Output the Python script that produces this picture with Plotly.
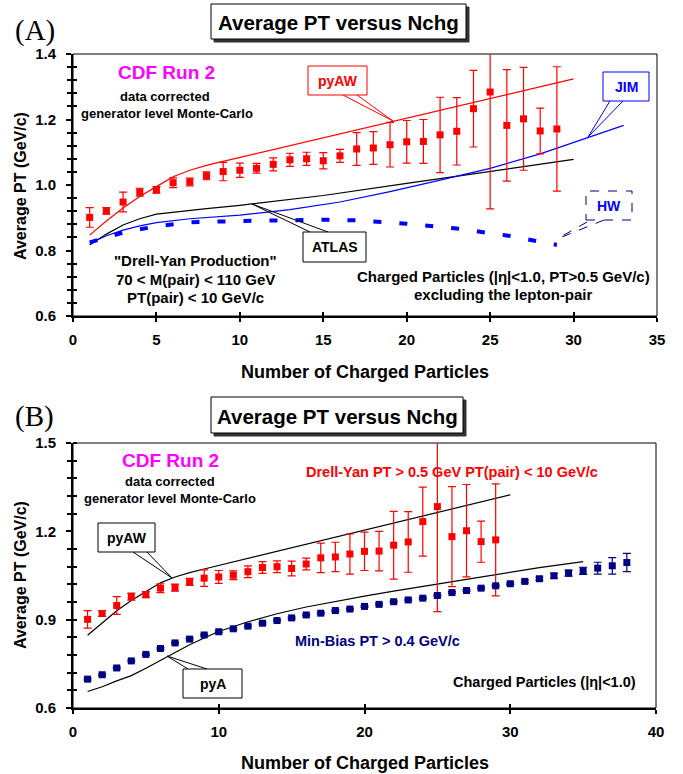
import plotly.graph_objects as go

W, H = 683, 774

# ---------------- data ----------------
# Drell-Yan data (CDF Run 2), average PT vs number of charged particles
nchg_dy = list(range(1, 30))
dy_pt = [0.901, 0.921, 0.948, 0.978, 0.985, 1.007, 1.009, 1.028, 1.041, 1.045,
         1.051, 1.063, 1.077, 1.080, 1.074, 1.089, 1.110, 1.113, 1.123, 1.132,
         1.133, 1.153, 1.164, 1.233, 1.284, 1.182, 1.202, 1.165, 1.171]
dy_err = [0.030, 0.010, 0.030, 0.012, 0.010, 0.015, 0.012, 0.012, 0.028, 0.022,
          0.015, 0.020, 0.020, 0.020, 0.025, 0.020, 0.050, 0.050, 0.068, 0.065,
          0.067, 0.115, 0.103, 0.117, 0.357, 0.170, 0.157, 0.070, 0.190]

# Min-Bias data
nchg_mb = list(range(1, 39))
mb_pt = [0.698, 0.713, 0.736, 0.760, 0.782, 0.802, 0.821, 0.834, 0.848, 0.859,
         0.869, 0.878, 0.888, 0.897, 0.906, 0.916, 0.922, 0.931, 0.936, 0.945,
         0.952, 0.961, 0.967, 0.973, 0.982, 0.992, 0.999, 1.007, 1.015, 1.022,
         1.030, 1.039, 1.049, 1.058, 1.066, 1.075, 1.083, 1.094]
mb_err = [0.003] * 30 + [0.004, 0.005, 0.008, 0.010, 0.012, 0.020, 0.028, 0.031]

# Monte-Carlo curves
pyaw_x = [1, 2, 3, 4, 5, 6, 7, 8, 9, 10, 15, 20, 25, 30]
pyaw_pt = [0.847, 0.890, 0.930, 0.965, 0.995, 1.025, 1.045, 1.060, 1.072, 1.084,
           1.144, 1.204, 1.264, 1.324]
atlas_x = [1, 2, 3, 4, 5, 6, 8, 10, 15, 20, 25, 30]
atlas_pt = [0.817, 0.850, 0.878, 0.897, 0.911, 0.917, 0.928, 0.938, 0.968, 1.005,
            1.042, 1.078]
jim_x = [1, 2, 3, 4, 5, 7, 10, 13, 16, 19, 22, 25, 28, 31, 33]
jim_pt = [0.822, 0.845, 0.862, 0.875, 0.885, 0.897, 0.908, 0.925, 0.948, 0.980,
          1.015, 1.051, 1.095, 1.148, 1.182]
hw_x = [1, 3, 5, 7, 10, 13, 15, 17, 20, 23, 26, 29]
hw_pt = [0.825, 0.855, 0.874, 0.886, 0.890, 0.893, 0.894, 0.892, 0.882, 0.867,
         0.846, 0.817]
pya_x = [1, 2, 3, 4, 5, 6, 7, 8, 9, 10, 12, 14, 16, 18, 20, 22, 24, 26, 28, 30,
         32, 35]
pya_pt = [0.656, 0.672, 0.692, 0.710, 0.735, 0.762, 0.790, 0.815, 0.838, 0.860,
          0.893, 0.920, 0.943, 0.962, 0.980, 0.997, 1.013, 1.028, 1.045, 1.062,
          1.077, 1.097]

# ---------------- helpers ----------------
FONT = "Liberation Sans, Arial, sans-serif"
SERIF = "Liberation Serif, Times New Roman, serif"
RED = "#FF0000"
BLUE = "#0000FF"
NAVY = "#000080"
MAGENTA = "#FF00FF"


def px(x):
    """figure x (pixels) -> paper fraction"""
    return x / W


def py(y):
    """figure y (pixels, from top) -> paper fraction"""
    return 1 - y / H


# panel frames in pixels (left, right, top, bottom)
A = (73, 657, 54, 316)
B = (73, 656, 443, 708)

shapes = []
annotations = []


def text(x, y, s, size, color="black", bold=True, xanchor="center", family=FONT,
         angle=0):
    annotations.append(dict(
        x=px(x), y=py(y), xref="paper", yref="paper", text=s, showarrow=False,
        textangle=angle, xanchor=xanchor, yanchor="middle",
        font=dict(size=size, color=color, family=family,
                  weight="bold" if bold else "normal")))


def rect(x0, y0, x1, y1, line="black", fill="white", width=1, dash="solid"):
    shapes.append(dict(type="rect", xref="paper", yref="paper",
                       x0=px(x0), x1=px(x1), y0=py(y1), y1=py(y0),
                       line=dict(color=line, width=width, dash=dash),
                       fillcolor=fill, layer="above"))


def seg(x0, y0, x1, y1, color="black", width=1, dash="solid"):
    shapes.append(dict(type="line", xref="paper", yref="paper",
                       x0=px(x0), x1=px(x1), y0=py(y0), y1=py(y1),
                       line=dict(color=color, width=width, dash=dash),
                       layer="above"))


def callout(box, b1, b2, tip, label, color, textcolor=None, dash="solid"):
    seg(*b1, *tip, color=color, dash=dash)
    seg(*b2, *tip, color=color, dash=dash)
    rect(*box, line=color, dash=dash)
    text((box[0] + box[2]) / 2, (box[1] + box[3]) / 2, label, 14,
         color=textcolor or color)


def title_box(x0, y0, x1, y1, label):
    rect(x0 + 3, y0 + 3, x1 + 3, y1 + 3, line="#333333", fill="#333333")
    rect(x0, y0, x1, y1)
    text((x0 + x1) / 2, (y0 + y1) / 2 + 1, label, 20.5)


def frame(p):
    l, r, t, b = p
    shapes.append(dict(type="rect", xref="paper", yref="paper",
                       x0=px(l), x1=px(r), y0=py(b), y1=py(t),
                       line=dict(color="black", width=1), layer="below"))


fig = go.Figure()

# ---------------- panel (A) ----------------
fig.add_trace(go.Scatter(x=atlas_x, y=atlas_pt, mode="lines", xaxis="x", yaxis="y",
                         line=dict(color="black", width=1.2), showlegend=False))
fig.add_trace(go.Scatter(x=jim_x, y=jim_pt, mode="lines", xaxis="x", yaxis="y",
                         line=dict(color=BLUE, width=1.2), showlegend=False))
fig.add_trace(go.Scatter(x=hw_x, y=hw_pt, mode="lines", xaxis="x", yaxis="y",
                         line=dict(color=BLUE, width=4, dash="8px,18px"),
                         showlegend=False))
fig.add_trace(go.Scatter(x=pyaw_x, y=pyaw_pt, mode="lines", xaxis="x", yaxis="y",
                         line=dict(color=RED, width=1.2), showlegend=False))
fig.add_trace(go.Scatter(x=nchg_dy, y=dy_pt, mode="markers", xaxis="x", yaxis="y",
                         marker=dict(symbol="square", size=7, color=RED),
                         error_y=dict(type="data", array=dy_err, color=RED,
                                      thickness=1.2, width=4),
                         showlegend=False))

# ---------------- panel (B) ----------------
fig.add_trace(go.Scatter(x=pyaw_x, y=pyaw_pt, mode="lines", xaxis="x2", yaxis="y2",
                         line=dict(color="black", width=1.2), showlegend=False))
fig.add_trace(go.Scatter(x=pya_x, y=pya_pt, mode="lines", xaxis="x2", yaxis="y2",
                         line=dict(color="black", width=1.2), showlegend=False))
fig.add_trace(go.Scatter(x=nchg_dy, y=dy_pt, mode="markers", xaxis="x2", yaxis="y2",
                         marker=dict(symbol="square", size=7, color=RED),
                         error_y=dict(type="data", array=dy_err, color=RED,
                                      thickness=1.2, width=4),
                         showlegend=False))
fig.add_trace(go.Scatter(x=nchg_mb, y=mb_pt, mode="markers", xaxis="x2", yaxis="y2",
                         marker=dict(symbol="square", size=7, color=NAVY),
                         error_y=dict(type="data", array=mb_err, color=NAVY,
                                      thickness=1.2, width=4),
                         showlegend=False))

# empty traces carrying the inner halves of the crossing ticks
fig.add_trace(go.Scatter(x=[], y=[], xaxis="x3", yaxis="y3", showlegend=False))
fig.add_trace(go.Scatter(x=[], y=[], xaxis="x4", yaxis="y4", showlegend=False))

tickfont = dict(family=FONT, size=15, color="black", weight="bold")


def main_x(p, rng, dtick, anchor):
    return dict(domain=[px(p[0]), px(p[1])], range=rng, anchor=anchor,
                dtick=dtick, tick0=0, ticks="outside", ticklen=4, tickwidth=1.5,
                tickcolor="black", showline=True, linewidth=2, linecolor="black",
                showgrid=False, zeroline=False, tickfont=tickfont,
                ticklabelstandoff=5, automargin=False, fixedrange=True)


def main_y(p, rng, dtick, minor, anchor):
    return dict(domain=[py(p[3]), py(p[2])], range=rng, anchor=anchor,
                dtick=dtick, tick0=0.6, tickformat=".1f", ticks="outside",
                ticklen=5, tickwidth=1.5, tickcolor="black", showline=True,
                linewidth=2, linecolor="black", showgrid=False, zeroline=False,
                tickfont=tickfont, ticklabelstandoff=7, automargin=False,
                minor=dict(dtick=minor, tick0=0.6, ticks="outside", ticklen=4,
                           tickwidth=1.5, tickcolor="black", showgrid=False),
                fixedrange=True)


def inner_x(over, rng, dtick, anchor):
    return dict(overlaying=over, anchor=anchor, range=rng, dtick=dtick, tick0=0,
                ticks="inside", ticklen=4, tickwidth=1.5, tickcolor="black",
                showticklabels=False, showline=False, showgrid=False,
                zeroline=False, automargin=False, fixedrange=True)


def inner_y(over, rng, minor, anchor):
    return dict(overlaying=over, anchor=anchor, range=rng, ticks="",
                showticklabels=False, showline=False, showgrid=False,
                zeroline=False, tick0=0.6, automargin=False,
                minor=dict(dtick=minor, tick0=0.6, ticks="inside", ticklen=4,
                           tickwidth=1.5, tickcolor="black", showgrid=False),
                fixedrange=True)


frame(A)
frame(B)

# panel (A) decorations
text(13, 31, "(A)", 29, bold=False, xanchor="left", family=SERIF)
title_box(211, 4, 466, 39, "Average PT versus Nchg")
text(166, 73, "CDF Run 2", 19, color=MAGENTA)
text(165, 96, "data corrected", 13)
text(167, 113, "generator level Monte-Carlo", 13)
text(195, 260, "\"Drell-Yan Production\"", 15)
text(195, 279, "70 &lt; M(pair) &lt; 110 GeV", 15)
text(195, 297, "PT(pair) &lt; 10 GeV/c", 15)
text(503, 276, "Charged Particles (|η|&lt;1.0, PT&gt;0.5 GeV/c)", 15)
text(503, 294, "excluding the lepton-pair", 15)
text(365, 372, "Number of Charged Particles", 18)
text(20, 186, "Average PT (GeV/c)", 16, angle=-90)
callout((308, 66, 367, 95), (343, 95), (357, 95), (393, 121), "pyAW", RED)
callout((603, 72, 649, 101), (610, 101), (623, 101), (588, 137), "JIM", BLUE)
callout((303, 232, 366, 262), (310, 232), (328, 232), (252, 204), "ATLAS", "black")
callout((586, 191, 632, 220), (587, 222), (604, 220), (557, 239), "HW", NAVY,
        textcolor=BLUE, dash="dash")

# panel (B) decorations
text(13, 417, "(B)", 29, bold=False, xanchor="left", family=SERIF)
title_box(211, 397, 463, 433, "Average PT versus Nchg")
text(170, 460, "CDF Run 2", 19, color=MAGENTA)
text(170, 482, "data corrected", 13)
text(170, 499, "generator level Monte-Carlo", 13)
text(452, 472, "Drell-Yan PT &gt; 0.5 GeV PT(pair) &lt; 10 GeV/c", 14.5, color=RED)
text(377, 641, "Min-Bias PT &gt; 0.4 GeV/c", 14.5, color=NAVY)
text(638, 682, "Charged Particles (|η|&lt;1.0)", 14.5, xanchor="right")
text(365, 763, "Number of Charged Particles", 18)
text(20, 575, "Average PT (GeV/c)", 16, angle=-90)
callout((98, 523, 155, 552), (133, 552), (147, 552), (172, 578), "pyAW", "black")
callout((183, 669, 242, 698), (188, 669), (207, 669), (167, 656), "pyA", "black")

fig.update_layout(
    width=W, height=H, margin=dict(l=0, r=0, t=0, b=0, autoexpand=False),
    paper_bgcolor="white", plot_bgcolor="rgba(0,0,0,0)",
    showlegend=False,
    font=dict(family=FONT, color="black"),
    xaxis=main_x(A, [0, 35], 5, "y"),
    yaxis=main_y(A, [0.6, 1.4], 0.2, 0.04, "x"),
    xaxis2=main_x(B, [0, 40], 10, "y2"),
    yaxis2=main_y(B, [0.6, 1.5], 0.3, 0.06, "x2"),
    xaxis3=inner_x("x", [0, 35], 5, "y"),
    yaxis3=inner_y("y", [0.6, 1.4], 0.04, "x"),
    xaxis4=inner_x("x2", [0, 40], 10, "y2"),
    yaxis4=inner_y("y2", [0.6, 1.5], 0.06, "x2"),
    shapes=shapes,
    annotations=annotations,
)

fig.write_html("out.html")
